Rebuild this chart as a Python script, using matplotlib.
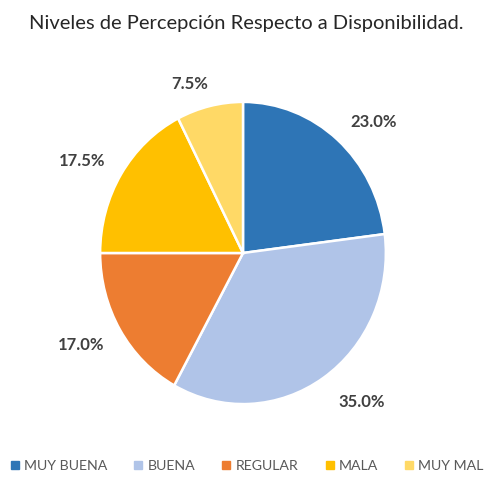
import matplotlib
matplotlib.use("Agg")
import numpy as np
import matplotlib.pyplot as plt
from matplotlib.lines import Line2D

plt.rcParams['font.family'] = ['Lato', 'DejaVu Sans']

# datos
categorias = ['MUY BUENA', 'BUENA', 'REGULAR', 'MALA', 'MUY MAL']
porcentajes = [23.0, 35.0, 17.0, 17.5, 7.5]
colores = ['#2E75B6', '#B0C4E8', '#ED7D31', '#FFC000', '#FFD966']
titulo = 'Niveles de Percepción Respecto a Disponibilidad.'

# desplazamiento de cada etiqueta desde el borde del sector (pixeles)
desplaz_etiquetas = [(36, 18), (38, -24), (-39, -15), (-39, 13), (-20, 22)]

fig = plt.figure(figsize=(4.88, 4.79), dpi=100)
# centro del pastel en (243, 253) px; radio 143 px horiz., 151 px vert.
ax = fig.add_axes([(243 - 200) / 488, (479 - 253 - 211.5) / 479, 400 / 488, 423 / 479])
wedges, _ = ax.pie(porcentajes, colors=colores, startangle=90, counterclock=False, radius=1,
                   wedgeprops=dict(edgecolor='white', linewidth=1.8))
ax.set_aspect('auto')
ax.set_xlim(-1.4, 1.4)
ax.set_ylim(-1.4, 1.4)
ax.axis('off')

for w, p, off in zip(wedges, porcentajes, desplaz_etiquetas):
    ang = np.deg2rad((w.theta1 + w.theta2) / 2)
    ax.annotate(f'{p:.1f}%', xy=(np.cos(ang), np.sin(ang)), xytext=off,
                textcoords='offset pixels', ha='center', va='center',
                fontsize=12, fontweight='bold', color='#404040')

fig.text(246 / 488, 1 - 29.5 / 479, titulo, ha='center', va='baseline', fontsize=14.5, color='#262626')

handles = [Line2D([], [], marker='s', linestyle='none', markersize=5.5, color=c) for c in colores]
fig.legend(handles, categorias, loc='center', bbox_to_anchor=(246 / 488, 1 - 466 / 479), ncol=5,
           frameon=False, handletextpad=0.2, columnspacing=1.75, handlelength=0.9,
           borderpad=0.2, prop=dict(size=10.2), labelcolor='#595959')

fig.savefig('out.png', dpi=100)
